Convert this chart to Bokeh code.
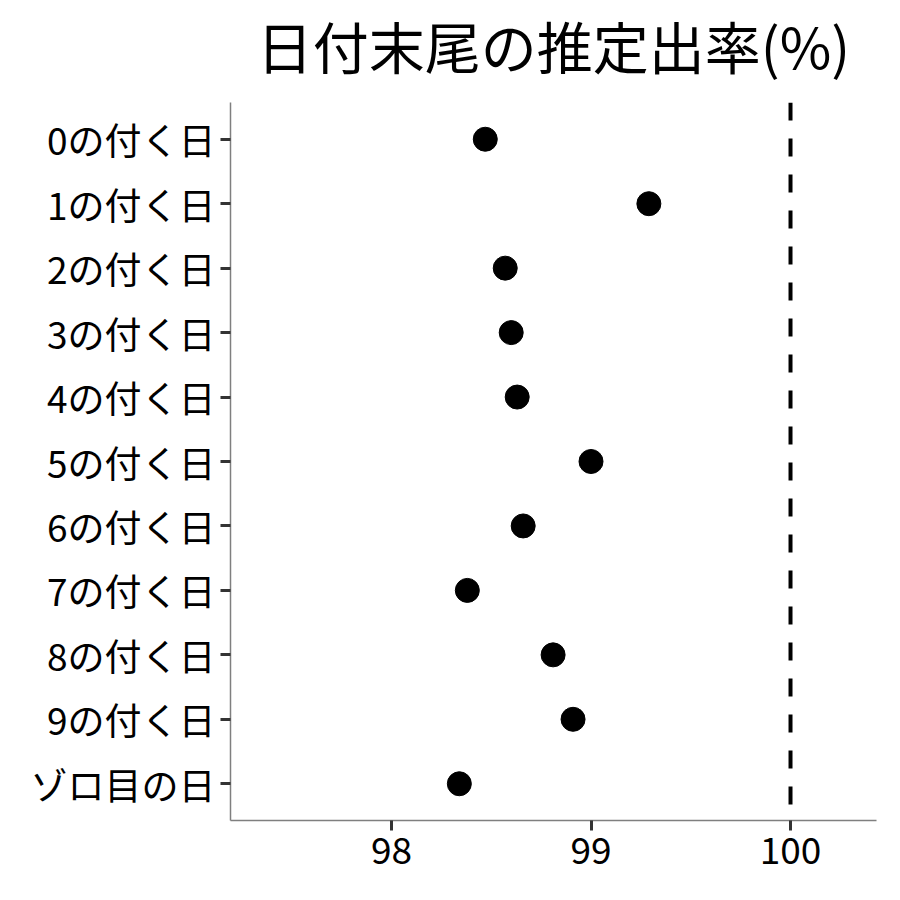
from bokeh.plotting import figure
from bokeh.models import FactorRange, Range1d, FixedTicker, Span, ColumnDataSource, Title
from bokeh.embed import file_html
from bokeh.resources import INLINE

categories = ["0の付く日", "1の付く日", "2の付く日", "3の付く日", "4の付く日",
              "5の付く日", "6の付く日", "7の付く日", "8の付く日", "9の付く日", "ゾロ目の日"]
rates = [98.47, 99.29, 98.57, 98.60, 98.63, 99.00, 98.66, 98.38, 98.81, 98.91, 98.34]
x_ticks = [98, 99, 100]
reference_rate = 100
title_text = "日付末尾の推定出率(%)"

FONT = "Noto Sans CJK JP"

src = ColumnDataSource(dict(cat=categories, rate=rates))

p = figure(
    frame_width=646, frame_height=718,
    y_range=FactorRange(factors=categories[::-1], range_padding=0.07, range_padding_units="absolute"),
    x_range=Range1d(97.193, 100.431),
    output_backend="svg", toolbar_location=None,
    min_border_left=230, min_border_right=8, min_border_top=102, min_border_bottom=64,
    background_fill_color="white", border_fill_color="white",
)
p.title = None
spacer = Title(text=" ", text_font_size="14px", text_color="white", standoff=0)
main_title = Title(text=title_text, align="center", text_font=FONT, standoff=0,
                   text_font_size="56px", text_font_style="normal", text_color="black", offset=0)
p.add_layout(spacer, "above")
p.add_layout(main_title, "above")

p.grid.visible = False
p.outline_line_color = None

p.scatter(x="rate", y="cat", source=src, size=24, color="black")

vline = Span(location=reference_rate, dimension="height", line_color="black",
             line_width=4, line_dash="18 18")
p.add_layout(vline)

p.xaxis.ticker = FixedTicker(ticks=x_ticks)
for ax in (p.xaxis[0], p.yaxis[0]):
    ax.axis_line_color = "#7f7f7f"
    ax.axis_line_width = 1.5
    ax.major_tick_line_color = "#333333"
    ax.major_tick_line_width = 3
    ax.major_tick_out = 10
    ax.major_tick_in = 0
    ax.minor_tick_line_color = None
    ax.major_label_text_font = FONT
    ax.major_label_text_font_size = "37px"
    ax.major_label_text_color = "black"
p.yaxis.major_label_standoff = 5
p.xaxis.major_label_standoff = 6

open("out.html", "w").write(file_html(p, INLINE))
